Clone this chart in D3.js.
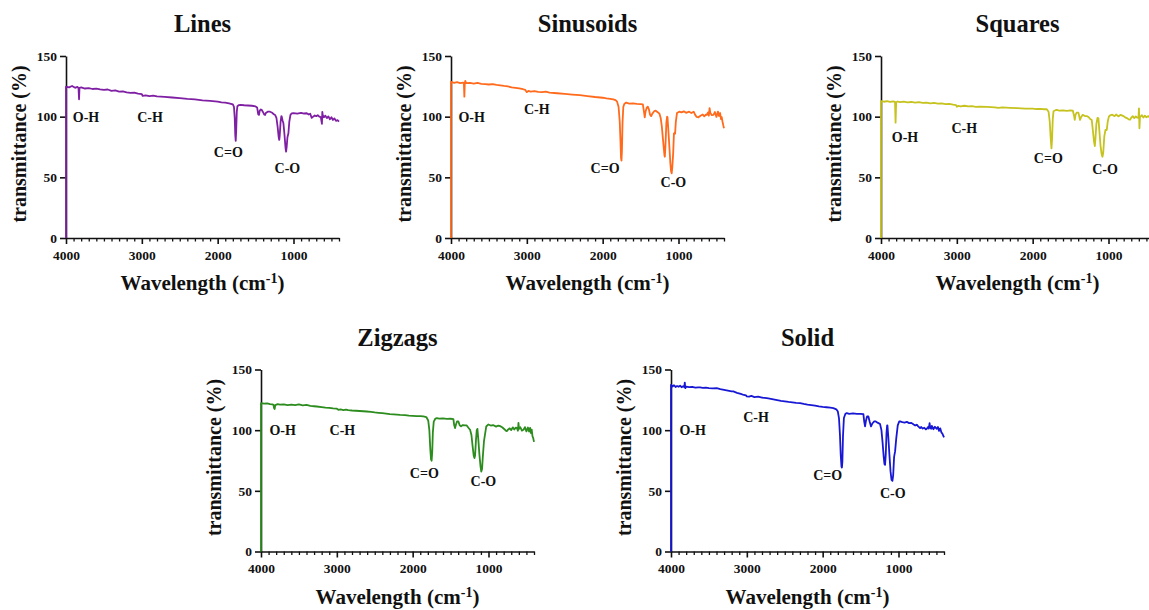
<!DOCTYPE html>
<html>
<head>
<meta charset="utf-8">
<script src="https://cdn.jsdelivr.net/npm/d3@7"></script>
<style>
  html, body { margin: 0; padding: 0; background: #fff; }
  svg { display: block; }
  text { font-family: "Liberation Serif", "Times New Roman", serif; font-weight: bold; fill: #111; }
</style>
</head>
<body>
<svg id="chart" width="1149" height="610"></svg>
<script>
// ---------- DATA (wavenumber cm-1, transmittance %) ----------
const xTickValues = [4000, 3000, 2000, 1000];
const yTickValues = [0, 50, 100, 150];
const xDomain = [4000, 400];
const yDomain = [0, 150];

const linesSpectrum = [[4000,0],[4000,124.7],[3960,124.2],[3920,125.3],[3880,123.8],[3850,124.5],[3835,123.5],[3828,114.3],[3822,123.8],[3800,124.1],[3750,123.2],[3700,123.6],[3650,122.8],[3600,123.1],[3550,122.5],[3500,122.0],[3450,122.4],[3400,121.3],[3350,121.6],[3300,120.7],[3250,120.9],[3200,120.1],[3150,119.6],[3100,119.8],[3050,119.0],[3000,118.6],[2990,117.2],[2950,117.6],[2900,117.0],[2850,117.3],[2800,116.8],[2700,116.3],[2600,115.8],[2500,115.2],[2400,114.6],[2300,114.2],[2200,113.5],[2100,113.0],[2000,112.4],[1950,111.8],[1900,111.6],[1850,111.0],[1800,110.2],[1785,108],[1775,99],[1768,85],[1762,80],[1756,88],[1748,104],[1740,108.6],[1720,109.6],[1700,109.8],[1650,109.4],[1600,109.2],[1550,109],[1500,108.4],[1480,107.6],[1465,102],[1455,101.4],[1445,105],[1430,106],[1418,105.5],[1400,103.5],[1385,101.6],[1375,101.4],[1365,103],[1340,104.1],[1310,104.1],[1280,103.2],[1260,102],[1243,101.4],[1225,99],[1210,92],[1195,83],[1188,80.8],[1182,84],[1170,96],[1160,100.5],[1155,100],[1145,97],[1133,94.5],[1120,86],[1105,74],[1098,71.1],[1090,75],[1080,83],[1067,86.3],[1055,96],[1040,101.5],[1023,102.8],[1000,103],[950,102.5],[900,103.2],[860,102.6],[825,102.8],[800,101.8],[780,102.4],[760,99],[740,100],[720,101],[700,100.4],[680,101.2],[660,100],[640,99.6],[630,96],[625,94],[620,104],[615,101.4],[600,99.5],[580,100.8],[560,98.8],[540,100.2],[520,97.9],[500,99.5],[480,97.3],[460,98.6],[440,96.5],[420,97.2],[400,95.9]];

const sinusoidsSpectrum = [[4000,0],[4000,128.8],[3960,127.8],[3920,128.4],[3880,127.6],[3840,128.1],[3830,127.5],[3824,116.5],[3818,127.8],[3812,129.5],[3800,127.6],[3750,127.9],[3700,127.3],[3650,127.8],[3600,127.1],[3550,126.8],[3500,126.5],[3450,126.9],[3400,126.2],[3350,125.8],[3300,125.3],[3250,124.9],[3200,124.2],[3150,123.8],[3100,123.3],[3050,122.6],[3020,122.0],[3000,120.2],[2980,121.2],[2950,120.6],[2900,121.0],[2850,120.4],[2800,120.2],[2750,120.6],[2700,119.8],[2600,119.3],[2500,118.8],[2400,118.2],[2300,117.7],[2200,117.0],[2100,116.2],[2000,115.6],[1950,115.0],[1900,114.6],[1860,114.3],[1830,113.6],[1810,112.4],[1790,108],[1775,96],[1765,80],[1758,66],[1752,63.7],[1746,72],[1738,95],[1728,108],[1715,110.5],[1690,111.6],[1650,110.8],[1600,111],[1550,110.6],[1500,110.4],[1470,110.2],[1455,104],[1445,99.5],[1435,104],[1420,107.2],[1405,108.2],[1390,106],[1375,101.6],[1360,100.5],[1345,102.5],[1320,104.5],[1300,104.9],[1270,103.5],[1250,102.2],[1235,99],[1220,92],[1200,78],[1185,68],[1180,67],[1172,76],[1160,95],[1150,100],[1145,99.5],[1135,90],[1120,75],[1108,62],[1098,55],[1090,53.3],[1082,58],[1070,70],[1060,86.3],[1045,86],[1035,96],[1020,103],[990,104.1],[960,103.5],[930,104.4],[900,103.2],[860,104.1],[830,103],[800,104.1],[780,101.5],[760,99.8],[737,99.5],[710,100.8],[680,101.8],[660,100.3],[640,101.6],[627,101.4],[610,103.5],[600,100.8],[590,107],[580,103],[560,101.2],[539,101.4],[520,103.8],[500,99.8],[480,104.2],[465,100.5],[451,103],[440,98],[430,99.6],[420,96],[410,93],[400,90.4]];

const squaresSpectrum = [[4000,0],[4000,112.9],[3960,112.3],[3920,112.8],[3880,112.1],[3840,112.6],[3815,112.2],[3808,95.1],[3800,111.9],[3780,112.5],[3750,112.0],[3700,112.4],[3650,111.8],[3600,112.1],[3550,111.6],[3500,111.9],[3450,111.3],[3400,111.5],[3350,111.0],[3300,111.3],[3250,110.8],[3200,111.0],[3150,110.4],[3100,110.5],[3050,109.9],[3010,109.6],[3000,108.2],[2980,108.9],[2950,108.4],[2900,109.0],[2850,108.5],[2800,108.6],[2750,108.1],[2700,108.3],[2600,108.0],[2500,107.7],[2450,107.2],[2400,107.6],[2300,107.3],[2200,107.0],[2100,106.6],[2000,106.6],[1950,106.3],[1900,106.4],[1850,106.1],[1814,106.1],[1790,104],[1775,96],[1762,82],[1752,73.9],[1744,82],[1735,98],[1725,104.5],[1700,105.3],[1682,105.5],[1650,105.0],[1600,105.2],[1550,104.8],[1500,105.1],[1470,104.9],[1455,101],[1445,97.3],[1435,101.5],[1420,103.3],[1397,103.3],[1385,100],[1375,97.3],[1362,99.5],[1340,101.5],[1310,100.5],[1287,100.5],[1260,99.5],[1240,98],[1221,97.3],[1205,88],[1190,79],[1180,75.8],[1172,82],[1160,94],[1145,99],[1133,98.6],[1120,88],[1105,76],[1090,69],[1080,67],[1070,70],[1055,84],[1040,89],[1023,89],[1010,96],[995,100],[979,101.1],[950,101.6],[920,100.4],[900,101.8],[870,100.2],[840,101.5],[803,100.5],[780,99.4],[750,98.6],[735,97.8],[715,97.5],[700,99.2],[680,100.4],[660,98.8],[640,100.2],[627,99.4],[605,99],[598,106.9],[592,90.4],[585,99.6],[560,101.2],[540,99.3],[520,100.8],[500,99.5],[474,100.5],[450,98.8],[430,100.2],[400,98]];

const zigzagsSpectrum = [[4000,0],[4000,122.3],[3960,121.8],[3920,122.1],[3880,121.5],[3850,121.2],[3835,120.8],[3828,118.2],[3820,117.5],[3812,120.6],[3780,121.4],[3750,121.0],[3700,121.3],[3650,120.7],[3600,121.0],[3550,120.6],[3500,121.2],[3450,120.5],[3400,120.8],[3350,120.0],[3300,119.7],[3265,119.5],[3200,119.0],[3150,118.6],[3100,118.3],[3050,117.9],[3000,117.7],[2980,116.8],[2950,117.1],[2914,116.6],[2880,117.0],[2850,116.5],[2800,116.2],[2750,116.0],[2700,115.8],[2650,115.6],[2606,115.4],[2550,115.0],[2500,114.6],[2450,114.3],[2400,114.0],[2350,113.6],[2300,113.2],[2250,113.0],[2166,112.6],[2100,112.4],[2050,112.0],[2000,111.8],[1950,111.6],[1900,111.5],[1859,111.3],[1820,110.8],[1795,108],[1780,100],[1768,85],[1758,76],[1750,74.8],[1742,82],[1734,98],[1722,107],[1700,109.6],[1682,109.9],[1650,109.5],[1600,109.7],[1550,109.3],[1500,109.4],[1463,109.1],[1452,104],[1441,101.7],[1430,104.5],[1415,107.2],[1397,107.2],[1380,104],[1362,103.1],[1340,104.2],[1310,103.9],[1287,103.9],[1265,102],[1243,100.3],[1225,96],[1210,87],[1195,79],[1185,77],[1177,79],[1165,92],[1155,100],[1146,101.1],[1135,93],[1120,80],[1105,70],[1095,65.9],[1085,68],[1075,78],[1060,90.7],[1045,97],[1030,103],[1001,104.7],[970,103.8],[940,104.2],[900,102.9],[870,103.8],[847,103.3],[820,102.4],[790,100.8],[770,99.5],[759,99.2],[740,100.6],[720,101.5],[700,100.1],[680,102.3],[660,100.6],[640,102.1],[627,101.9],[612,99.5],[605,106],[598,101],[580,102.4],[560,99.6],[539,100.3],[520,102.5],[500,99.0],[480,102.2],[465,98.8],[451,101.9],[440,97.5],[430,100.5],[420,95],[410,93.5],[400,90.4]];

const solidSpectrum = [[4000,0],[4000,137.4],[3980,136.0],[3960,137.0],[3940,135.6],[3920,136.4],[3900,135.8],[3880,136.6],[3860,135.4],[3840,136.2],[3825,135.5],[3818,139.2],[3812,134.6],[3800,135.8],[3760,135.4],[3720,135.6],[3680,135.0],[3640,135.3],[3617,135.2],[3580,134.8],[3540,135.0],[3500,134.6],[3450,134.4],[3397,134.6],[3350,133.8],[3300,133.2],[3250,132.6],[3200,132.0],[3178,131.9],[3130,130.8],[3080,129.9],[3040,129.0],[3010,128.6],[3001,127.8],[2970,127.6],[2940,128.2],[2900,127.3],[2850,127.6],[2800,126.9],[2737,126.4],[2700,126.0],[2650,125.4],[2600,124.8],[2550,124.2],[2500,123.8],[2450,123.3],[2400,122.9],[2350,122.5],[2298,122.3],[2250,121.6],[2200,121.0],[2150,120.6],[2100,120.2],[2050,119.6],[2000,119.2],[1950,118.9],[1900,118.5],[1859,118.2],[1820,117.2],[1800,115.4],[1785,110],[1772,96],[1762,80],[1752,70],[1746,69.2],[1740,74],[1732,95],[1720,110],[1700,113.5],[1682,114.1],[1650,113.5],[1600,113.8],[1550,113.4],[1500,113.5],[1463,113.2],[1452,107],[1441,103.1],[1430,107.5],[1415,111.3],[1397,111.3],[1380,107],[1362,103.1],[1345,105.5],[1320,107.2],[1300,107.2],[1270,106],[1243,105],[1225,100],[1210,90],[1195,78],[1185,72],[1177,71.5],[1168,80],[1158,98],[1150,103.9],[1146,103.9],[1135,95],[1120,80],[1105,66],[1092,59],[1080,58.3],[1070,63],[1058,78],[1045,82.5],[1030,93],[1010,104],[990,107.2],[979,107.2],[950,106.6],[920,106.2],[890,106.8],[860,105.8],[830,106.0],[800,104.6],[780,103.8],[759,104.5],[740,103.2],[715,101.7],[700,102.6],[680,101.3],[660,102.0],[640,100.6],[627,101.1],[610,102.6],[600,101.4],[590,105.8],[583,102.4],[570,101.2],[560,103.6],[540,100.8],[520,102.8],[495,101.1],[480,102.6],[465,99.4],[450,101.5],[435,98.2],[420,97],[410,95.5],[400,94]];

// peak annotations: [label, wavenumber, transmittance] (text baseline position)
const linesLabels = [["O-H",3736,95.9],["C-H",2892,95.9],["C=O",1859,66.5],["C-O",1081,53.3]];
const sinusoidsLabels = [["O-H",3727,95.9],["C-H",2869,102.2],["C=O",1968,53.8],["C-O",1067,42.3]];
const squaresLabels = [["O-H",3683,79.4],["C-H",2901,86.8],["C=O",1793,61.6],["C-O",1045,52.5]];
const zigzagsLabels = [["O-H",3714,96.2],["C-H",2927,96.2],["C=O",1846,60.5],["C-O",1067,53.6]];
const solidLabels = [["O-H",3714,96.2],["C-H",2879,107.1],["C=O",1933,59.1],["C-O",1075,44.0]];

const titles = ["Lines", "Sinusoids", "Squares", "Zigzags", "Solid"];
const colors = ["#7f1fa3", "#ff6a1c", "#c6c21e", "#2c8c1e", "#1818d4"];

// ---------- LAYOUT ----------
const FONT = '"Liberation Serif", "Times New Roman", serif';
const plotW = 273, plotH = 182;
const panels = [
  {title: titles[0], data: linesSpectrum,     labels: linesLabels,     color: colors[0], left: 66,  top: 56},
  {title: titles[1], data: sinusoidsSpectrum, labels: sinusoidsLabels, color: colors[1], left: 451, top: 56},
  {title: titles[2], data: squaresSpectrum,   labels: squaresLabels,   color: colors[2], left: 881, top: 56},
  {title: titles[3], data: zigzagsSpectrum,   labels: zigzagsLabels,   color: colors[3], left: 261, top: 369.5},
  {title: titles[4], data: solidSpectrum,     labels: solidLabels,     color: colors[4], left: 671, top: 369.5}
];

const svg = d3.select("#chart");

function styleAxis(sel) {
  sel.attr("font-family", FONT).attr("font-size", 13.5).attr("font-weight", "bold");
  sel.select(".domain").attr("stroke", "#111").attr("stroke-width", 1.6);
  sel.selectAll("line").attr("stroke", "#111").attr("stroke-width", 1.6);
  sel.selectAll("text").style("font-family", FONT).style("font-size", "13.5px").style("font-weight", "bold").attr("fill", "#111");
}

panels.forEach(p => {
  const g = svg.append("g").attr("transform", `translate(${p.left},${p.top})`);
  const x = d3.scaleLinear().domain(xDomain).range([0, plotW]);
  const y = d3.scaleLinear().domain(yDomain).range([plotH, 0]);

  // title
  g.append("text")
    .attr("x", plotW / 2).attr("y", -24)
    .attr("text-anchor", "middle")
    .style("font-size", "24.5px")
    .text(p.title);

  // minor x ticks
  const minor = d3.range(3900, 399, -100).filter(v => v % 1000 !== 0);
  const minorAxis = g.append("g").attr("transform", `translate(0,${plotH})`)
    .call(d3.axisBottom(x).tickValues(minor).tickSize(3.5).tickFormat(""));
  minorAxis.select(".domain").remove();
  minorAxis.selectAll("line").attr("stroke", "#111").attr("stroke-width", 1.3);

  // major x axis
  const xAxis = g.append("g").attr("transform", `translate(0,${plotH})`)
    .call(d3.axisBottom(x).tickValues(xTickValues).tickSize(6).tickPadding(6).tickSizeOuter(0).tickFormat(d3.format("d")));
  styleAxis(xAxis);

  // y axis
  const yAxis = g.append("g")
    .call(d3.axisLeft(y).tickValues(yTickValues).tickSize(6).tickPadding(3).tickSizeOuter(0).tickFormat(d3.format("d")));
  styleAxis(yAxis);

  // axis titles
  const xt = g.append("text")
    .attr("x", plotW / 2).attr("y", plotH + 52)
    .attr("text-anchor", "middle")
    .style("font-size", "21px");
  xt.append("tspan").text("Wavelength (cm");
  xt.append("tspan").attr("dy", -7).style("font-size", "14px").text("-1");
  xt.append("tspan").attr("dy", 7).text(")");

  g.append("text")
    .attr("transform", `translate(-40,${plotH / 2 - 3}) rotate(-90)`)
    .attr("text-anchor", "middle")
    .style("font-size", "20px")
    .text("transmittance (%)");

  // spectrum
  const line = d3.line().x(d => x(d[0])).y(d => y(d[1]));
  g.append("path")
    .datum(p.data)
    .attr("d", line)
    .attr("fill", "none")
    .attr("stroke", p.color)
    .attr("stroke-width", 1.8)
    .attr("stroke-linejoin", "round");

  // annotations
  g.selectAll("text.ann").data(p.labels).enter().append("text")
    .attr("class", "ann")
    .attr("x", d => x(d[1])).attr("y", d => y(d[2]))
    .attr("text-anchor", "middle")
    .style("font-size", "14px")
    .text(d => d[0]);
});
</script>
</body>
</html>
